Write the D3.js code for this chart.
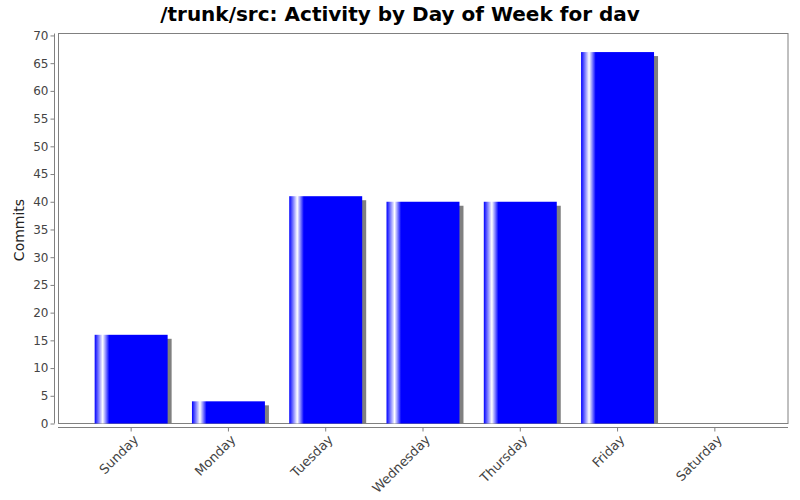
<!DOCTYPE html>
<html><head><meta charset="utf-8">
<script src="https://cdn.jsdelivr.net/npm/d3@7"></script>
<style>body{margin:0;background:#fff}svg{display:block}text{font-family:"DejaVu Sans",sans-serif}</style>
</head><body><svg id="c" width="800" height="500"></svg>
<script>
const days = ["Sunday","Monday","Tuesday","Wednesday","Thursday","Friday","Saturday"];
const commits = [16,4,41,40,40,67,0];
const yTicks = [0,5,10,15,20,25,30,35,40,45,50,55,60,65,70];
const title = "/trunk/src: Activity by Day of Week for dav";
const yLabel = "Commits";

const svg = d3.select("#c");
const L=58, R=788, T=33.5, B=423.5;
const x = d3.scaleBand().domain(days).range([L,R]).paddingInner(0.25).paddingOuter(0.377);
const y = d3.scaleLinear().domain([0, d3.max(commits)*1.05]).range([B,T]);

const defs = svg.append("defs");
const g = defs.append("linearGradient").attr("id","bg").attr("x1","0").attr("x2","1").attr("y1","0").attr("y2","0");
g.append("stop").attr("offset","0").attr("stop-color","#0000ff");
g.append("stop").attr("offset","0.11").attr("stop-color","#ffffff");
g.append("stop").attr("offset","0.2").attr("stop-color","#0000ff");
g.append("stop").attr("offset","1").attr("stop-color","#0000ff");

svg.append("text").attr("x",400).attr("y",21).attr("text-anchor","middle")
  .attr("font-size",20).attr("font-weight","bold").text(title);

// plot outline
svg.append("rect").attr("x",L+0.5).attr("y",T).attr("width",R-L-0.5).attr("height",B-T)
  .attr("fill","#fff").attr("stroke","#808080").attr("stroke-width",1);

const bw = x.bandwidth();
const data = days.map((d,i)=>({d,v:commits[i]})).filter(o=>o.v>0);
// shadows
svg.append("g").selectAll("rect").data(data).join("rect")
  .attr("x",o=>x(o.d)+4).attr("y",o=>y(o.v)+4).attr("width",bw).attr("height",o=>B-y(o.v)-4)
  .attr("fill","#808080");
svg.append("g").selectAll("rect").data(data).join("rect")
  .attr("x",o=>x(o.d)).attr("y",o=>y(o.v)).attr("width",bw).attr("height",o=>B-y(o.v))
  .attr("fill","url(#bg)");

// y axis
const ya = svg.append("g").attr("transform",`translate(54.5,0)`)
  .call(d3.axisLeft(y).tickValues(yTicks).tickSize(4).tickPadding(2));
ya.select(".domain").attr("stroke","#808080").attr("d",`M0,${T}V${B}`);
ya.selectAll(".tick line").attr("stroke","#808080");
ya.selectAll(".tick text").attr("fill","#444").attr("font-size",12).attr("font-family","DejaVu Sans");

// x axis
const xa = svg.append("g").attr("transform",`translate(0,427.5)`)
  .call(d3.axisBottom(x).tickSize(4).tickSizeOuter(0));
xa.select(".domain").attr("stroke","#808080").attr("d",`M${L},0H${R}`);
xa.selectAll(".tick line").attr("stroke","#808080");
xa.selectAll(".tick text").attr("fill","#444").attr("font-size",13).attr("font-family","DejaVu Sans")
  .attr("text-anchor","end").attr("dy","0").attr("y",0)
  .attr("transform","translate(8,13) rotate(-45)");

svg.append("text").attr("transform","translate(24,230) rotate(-90)").attr("text-anchor","middle")
  .attr("font-size",14).attr("fill","#222").text(yLabel);
</script></body></html>
